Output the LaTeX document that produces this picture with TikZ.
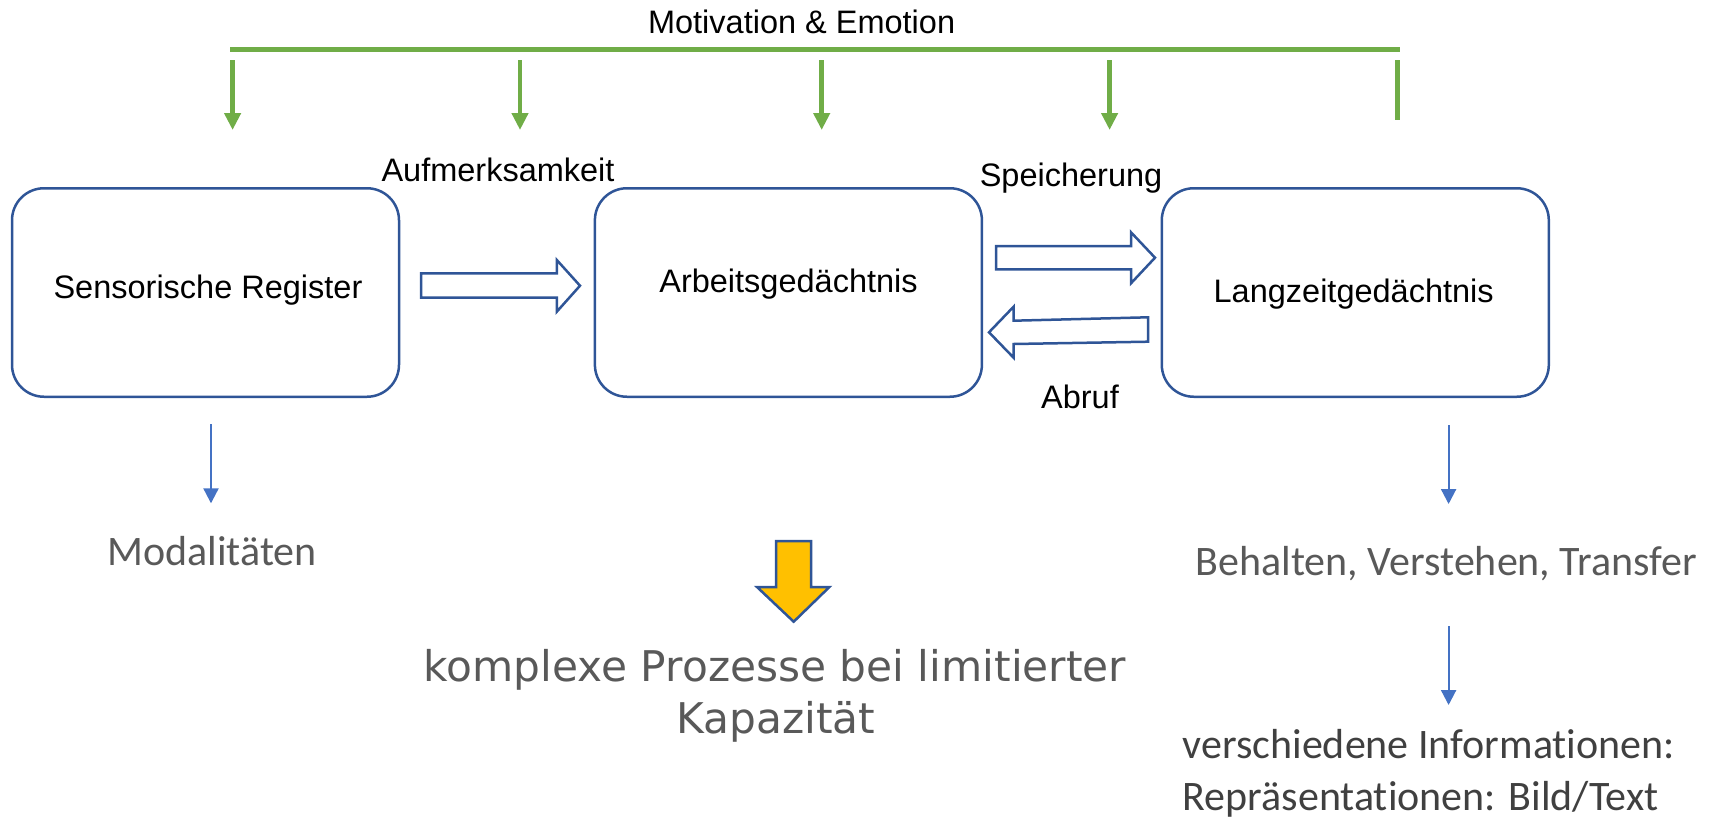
\documentclass[tikz,border=0pt]{standalone}
\usepackage{fontspec}
\setmainfont{Liberation Sans}
\newfontfamily\calfont[Ligatures=NoCommon]{Carlito}
\newfontfamily\dvfont{DejaVu Sans}
\usetikzlibrary{arrows.meta}
\definecolor{boxblue}{HTML}{2F5597}
\definecolor{mgreen}{HTML}{70AD47}
\definecolor{lblue}{HTML}{4472C4}
\definecolor{gold}{HTML}{FFC000}
\definecolor{txtgray}{HTML}{595959}
\definecolor{txtdark}{HTML}{404040}

\begin{document}
\begin{tikzpicture}[x=1pt,y=-1pt,
  memory/.style={draw=boxblue,line width=2.5pt,rounded corners=32pt,
    minimum width=387pt,minimum height=208.5pt,inner sep=0pt},
  lbl/.style={anchor=base,inner sep=0pt,font=\fontsize{32.5}{39}\selectfont},
  outcome/.style={anchor=base,inner sep=0pt,text=txtgray,
    font=\calfont\fontsize{42}{52}\selectfont},
  infoline/.style={anchor=base west,inner sep=0pt,text=txtdark,
    font=\calfont\fontsize{42}{52}\selectfont},
  capline/.style={anchor=base,inner sep=0pt,text=txtgray,
    font=\dvfont\fontsize{42.3}{52}\selectfont},
  blockarrow/.style={draw=boxblue,line width=2.5pt,fill=white,line join=miter},
  influence/.style={draw=mgreen,line width=4.5pt,-{Triangle[width=16pt,length=17pt]}},
  result/.style={draw=lblue,line width=2.2pt,-{Triangle[width=15pt,length=15pt]}}
]
\useasboundingbox (0,0) rectangle (1719,822);

% memory stores
\node[memory] (sr) at (205.5,292.5) {};
\node[memory] (ag) at (788.4,292.5) {};
\node[memory] (lz) at (1355.3,292.5) {};

\node[lbl] (srl) at (208,298.3) {Sensorische Register};
\node[lbl] (agl) at (788.5,292.7) {Arbeitsgedächtnis};
\node[lbl] (lzl) at (1353.7,302.7) {Langzeitgedächtnis};

% motivation bus
\node[lbl] (mot) at (801.6,33) {Motivation \& Emotion};
\coordinate (busL) at (230,49);
\coordinate (busR) at (1400,49);
\draw[mgreen,line width=5pt] (busL) -- (busR);
\foreach \gx [count=\i] in {232.6,520,821.7,1109.6}{
  \coordinate (gs\i) at (\gx,60);
  \coordinate (ge\i) at (\gx,130);
  \draw[influence] (gs\i) -- (ge\i);
}
\coordinate (gs5) at (1397.6,60);
\coordinate (ge5) at (1397.6,120);
\draw[mgreen,line width=4.5pt] (gs5) -- (ge5);

% transfer arrows between stores
\node[lbl] (auf) at (498,181.7) {Aufmerksamkeit};
\draw[blockarrow] (421,273.3) -- (556.8,273.3) -- (556.8,260) -- (580,285.7)
  -- (556.8,311.7) -- (556.8,297.7) -- (421,297.7) -- cycle;

\node[lbl] (spe) at (1071,186.7) {Speicherung};
\draw[blockarrow] (996,246) -- (1131,246) -- (1131,232.3) -- (1155,257.7)
  -- (1131,283.3) -- (1131,269.3) -- (996,269.3) -- cycle;

\node[lbl] (abr) at (1080,408.3) {Abruf};
\draw[blockarrow] (1148,317.3) -- (1013.6,320.7) -- (1013.6,306.7) -- (989,332.3)
  -- (1013.6,357.7) -- (1013.6,344) -- (1148,341.7) -- cycle;

% outcomes
\node[outcome] (mod) at (212,565.7) {Modalitäten};
\coordinate (m1) at (211,424);
\coordinate (m2) at (211,503.3);
\draw[result] (m1) -- (m2);

\node[outcome] (beh) at (1446.4,575) {Behalten, Verstehen, Transfer};
\coordinate (b1) at (1448.6,425);
\coordinate (b2) at (1448.6,504);
\draw[result] (b1) -- (b2);

\coordinate (v1) at (1448.6,626);
\coordinate (v2) at (1448.6,705);
\draw[result] (v1) -- (v2);
\node[infoline] (inf1) at (1182.5,758) {verschiedene Informationen:};
\node[infoline] (inf2) at (1182.5,810) {Repräsentationen: Bild/Text};

% capacity note
\draw[draw=boxblue,line width=2.5pt,fill=gold,line join=miter]
  (776,541) -- (811,541) -- (811,587) -- (829.4,587) -- (793.7,621.7)
  -- (757,587) -- (776,587) -- cycle;
\node[capline] (kp1) at (775,681.7) {komplexe Prozesse bei limitierter};
\node[capline] (kp2) at (776,733) {Kapazität};
\end{tikzpicture}
\end{document}
